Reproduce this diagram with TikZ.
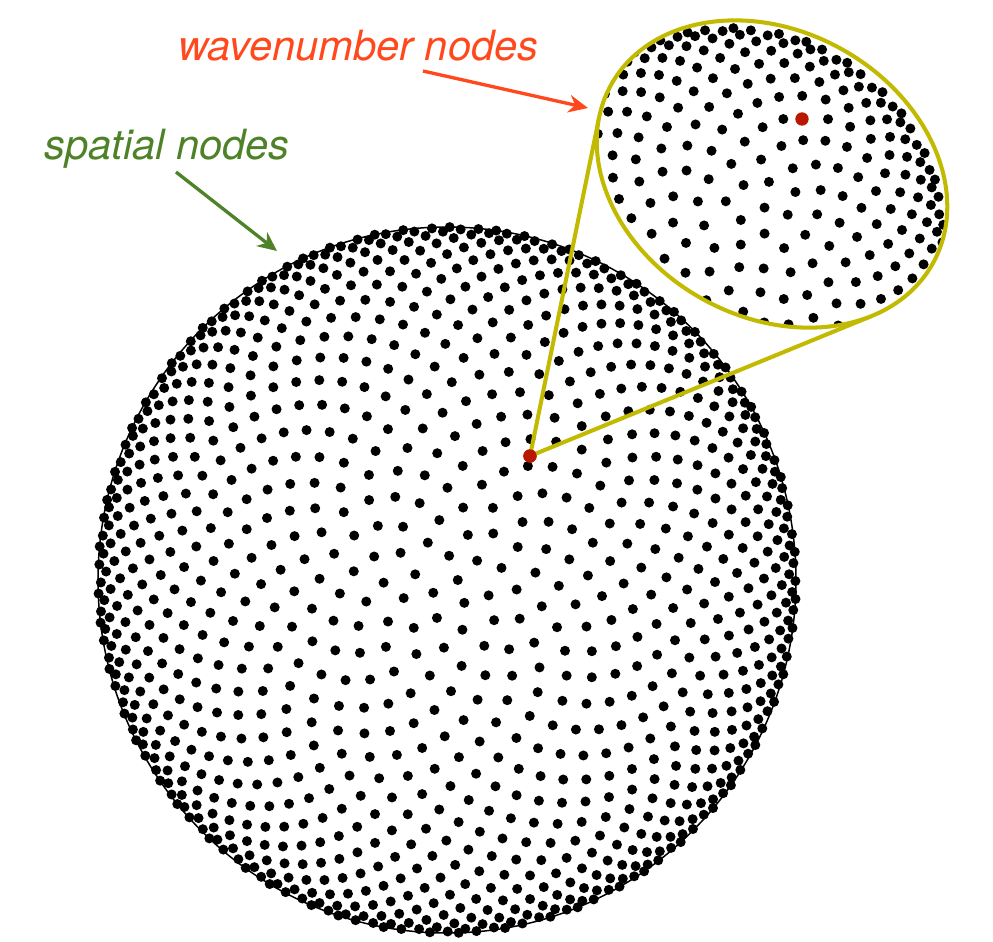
\documentclass[tikz,border=0pt]{standalone}
\usepackage{fontspec}
\setmainfont{TeX Gyre Heros}
\usetikzlibrary{arrows.meta}
\definecolor{wavered}{RGB}{255,72,28}
\definecolor{spgreen}{RGB}{78,130,40}
\definecolor{zoomyel}{RGB}{194,186,0}
\definecolor{dotred}{RGB}{185,24,0}
\begin{document}
\begin{tikzpicture}[x=0.02cm,y=-0.02cm,
  labeltext/.style={anchor=base west,inner sep=0pt,font=\fontsize{23.7pt}{28pt}\selectfont\itshape},
  pointer/.style={line width=1.9pt,-{Stealth[length=11pt,width=10pt,inset=3.5pt]}},
  zoomline/.style={draw=zoomyel,line width=2.3pt},
  reddot/.style={circle,fill=dotred,inner sep=0pt,minimum size=7.6pt},
  blackdot/.style={fill=black}]
\useasboundingbox (0,0) rectangle (993,941);
% spatial nodes (big disk)
\foreach \i in {0,...,1049}{%
  \edef\rr{\fpeval{sqrt(1-(1-(\i+0.5)/1050)^2)}}%
  \edef\aa{\fpeval{\i*137.50776405}}%
  \edef\px{\fpeval{round(447+349*\rr*cosd(\aa),3)}}%
  \edef\py{\fpeval{round(580+353*\rr*sind(\aa),3)}}%
  \fill[blackdot] (\px,\py) circle[radius=2.85pt];
}
\draw[line width=0.85pt] (447,580) ellipse[x radius=349,y radius=353];
% zoom window
\coordinate (E) at (772,174);
\coordinate (T1) at (599.2,117.1);
\coordinate (T2) at (871.9,315.9);
\node[reddot] (P) at (530,456) {};
\draw[zoomline] (P.center) -- (T1);
\draw[zoomline] (P.center) -- (T2);
\node[reddot] at (P) {};
\fill[white,rotate around={-29:(E)}] (E) ellipse[x radius=184,y radius=143];
\begin{scope}
  \clip[rotate around={-29:(E)}] (E) ellipse[x radius=184,y radius=143];
  \foreach \i in {0,...,419}{%
    \edef\rr{\fpeval{sqrt(1-(1-(\i+0.5)/420)^2)}}%
    \edef\aa{\fpeval{\i*137.50776405+20}}%
    \edef\px{\fpeval{round(731+213*\rr*cosd(\aa),3)}}%
    \edef\py{\fpeval{round(241+213*\rr*sind(\aa),3)}}%
    \fill[blackdot] (\px,\py) circle[radius=2.85pt];
  }
\end{scope}
\fill[white] (802,119) circle[radius=10];
\node[reddot] (Q) at (802,119) {};
\draw[zoomline,rotate around={-29:(E)}] (E) ellipse[x radius=184,y radius=143];
% labels
\node[labeltext,text=wavered] (wn) at (178,60) {wavenumber nodes};
\node[labeltext,text=spgreen] (sp) at (44,159) {spatial nodes};
\coordinate (wnS) at (423,71);
\coordinate (wnT) at (588,108);
\coordinate (spS) at (176,172);
\coordinate (spT) at (277,251);
\draw[pointer,draw=wavered,fill=wavered] (wnS) -- (wnT);
\draw[pointer,draw=spgreen,fill=spgreen] (spS) -- (spT);
\end{tikzpicture}
\end{document}
